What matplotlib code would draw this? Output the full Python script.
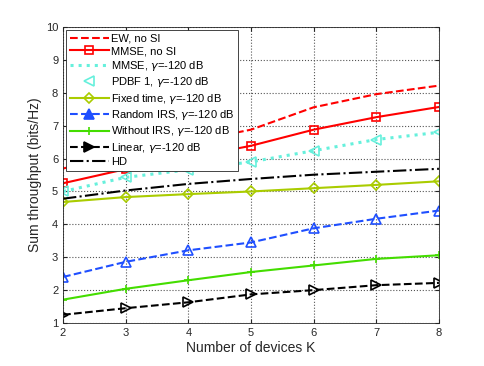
import matplotlib
matplotlib.use("Agg")
import matplotlib.pyplot as plt
import numpy as np

plt.rcParams['font.family'] = ['Liberation Sans', 'DejaVu Sans']
plt.rcParams['mathtext.fontset'] = 'dejavusans'

K = [2, 3, 4, 5, 6, 7, 8]
ew_no_si = [5.70, 6.10, 6.50, 6.88, 7.56, 7.96, 8.22]
mmse_no_si = [5.25, 5.68, 6.02, 6.39, 6.88, 7.26, 7.57]
mmse_gamma = [5.00, 5.43, 5.66, 5.90, 6.24, 6.58, 6.80]
pdbf1 = [5.00, 5.43, 5.66, 5.90, 6.24, 6.58, 6.80]
fixed_time = [4.68, 4.83, 4.92, 5.00, 5.10, 5.20, 5.31]
random_irs = [2.40, 2.86, 3.21, 3.45, 3.88, 4.17, 4.42]
without_irs = [1.71, 2.04, 2.30, 2.55, 2.75, 2.95, 3.06]
linear = [1.25, 1.45, 1.63, 1.87, 2.00, 2.15, 2.22]
hd = [4.78, 5.03, 5.23, 5.38, 5.51, 5.60, 5.69]

labels = ['EW, no SI', 'MMSE, no SI', r'MMSE, $\gamma$=-120 dB', r'PDBF 1, $\gamma$=-120 dB',
          r'Fixed time, $\gamma$=-120 dB', r'Random IRS, $\gamma$=-120 dB',
          r'Without IRS, $\gamma$=-120 dB', r'Linear, $\gamma$=-120 dB', 'HD']

fig = plt.figure(figsize=(4.85, 3.66), dpi=100)
ax = fig.add_axes([0.13, 0.1175, 0.775, 0.8085])

red = '#FF0000'
cyan = '#66F0DC'
ygreen = '#AACC00'
blue = '#1F4FFF'
green = '#44DD00'

ax.plot(K, ew_no_si, '--', color=red, lw=1.5, label=labels[0])
ax.plot(K, mmse_no_si, '-', color=red, lw=1.5, marker='s', ms=6, mfc='none', mew=1.2, label=labels[1])
ax.plot(K, mmse_gamma, ':', color=cyan, lw=2.2, label=labels[2])
ax.plot(K, pdbf1, linestyle='none', color=cyan, marker='<', ms=7, mfc='none', mew=1.2, label=labels[3])
ax.plot(K, fixed_time, '-', color=ygreen, lw=1.5, marker='D', ms=5.5, mfc='none', mew=1.2, label=labels[4])
ax.plot(K, random_irs, '--', color=blue, lw=1.5, marker='^', ms=7, mfc='none', mew=1.2, label=labels[5])
ax.plot(K, without_irs, '-', color=green, lw=1.5, marker='+', ms=6, mew=1.2, label=labels[6])
ax.plot(K, linear, '--', color='black', lw=1.5, marker='>', ms=7, mfc='none', mew=1.2, label=labels[7])
ax.plot(K, hd, '-.', color='black', lw=1.5, label=labels[8])

ax.set_xlim(2, 8)
ax.set_ylim(1, 10)
ax.set_xticks(range(2, 9))
ax.set_yticks(range(1, 11))
ax.tick_params(direction='in', labelsize=8, top=True, right=True, length=3, colors='#262626')
ax.grid(True, linestyle=':', color='#555555', lw=0.8)
for s in ax.spines.values():
    s.set_color('#262626')
    s.set_linewidth(0.6)
ax.set_xlabel('Number of devices K', fontsize=10, color='#262626', labelpad=2)
ax.set_ylabel('Sum throughput (bits/Hz)', fontsize=10, color='#262626', labelpad=3)

leg = ax.legend(loc='upper left', fontsize=8.0, handlelength=3.5, handletextpad=0.25,
                labelspacing=0.22, borderpad=0.3, fancybox=False, framealpha=1,
                edgecolor='#262626', borderaxespad=0.3)
leg.get_frame().set_linewidth(0.6)
for h in leg.legend_handles:
    if hasattr(h, 'set_markerfacecolor') and h.get_marker() in ('^', '>'):
        h.set_markerfacecolor(h.get_color())

fig.savefig('out.png', dpi=100)
